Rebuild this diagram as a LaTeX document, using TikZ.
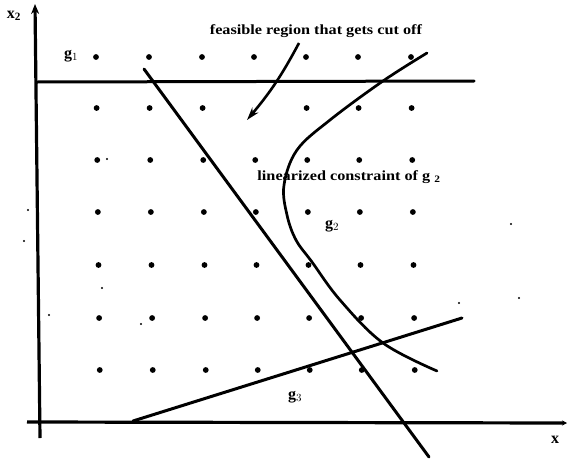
\documentclass[tikz,border=0pt]{standalone}
\usepackage{fontspec}
\setmainfont{Liberation Serif}
\usetikzlibrary{arrows.meta}
\begin{document}
\begin{tikzpicture}[x=1pt,y=-1pt,
  axisline/.style={line width=3.2pt},
  conline/.style={line width=3pt, line cap=round},
  gridpt/.style={fill=black},
  speck/.style={fill=black},
  lbl/.style={inner sep=0pt, font=\fontsize{16}{18}\selectfont},
  note/.style={inner sep=0pt, font=\fontsize{14}{16}\selectfont, xscale=1.16}]
\useasboundingbox (0,0) rectangle (573,458);
% axes
\coordinate (ybot) at (40,438);
\coordinate (ytop) at (35,4);
\coordinate (xleft) at (27,422);
\coordinate (xright) at (567,423);
\draw[axisline,-{Stealth[length=10pt,width=8pt]}] (ybot) -- (ytop);
\draw[axisline,-{Stealth[length=5pt,width=5pt]}] (xleft) -- (xright);
\node[lbl] (x2lbl) at (14,16) {\textbf{x}$_{\mathbf 2}$};
\node[lbl] (xlbl) at (555,440) {\textbf{x}};
% grid of points
\foreach \y in {57,108,160,212,265,318,370}{
  \foreach \x in {96,149,202,254,306,358,411}{
    \ifnum\x=254 \ifnum\y=108 \else
      \fill[gridpt] ({\x+(\y-57)*0.012},\y) circle (2.9);
    \fi\else
      \fill[gridpt] ({\x+(\y-57)*0.012},\y) circle (2.9);
    \fi
  }
}
% specks
\foreach \p in {(28,210),(24,241),(49,315),(102,288),(141,324),(107,159),(459,303),(511,224),(519,298)}
  \fill[speck] \p circle (1.2);
% g1
\coordinate (g1a) at (37,82);
\coordinate (g1b) at (474,81);
\draw[conline] (g1a) -- (g1b);
\node[lbl] (g1lbl) at (71,56) {\textbf{g}$_{1}$};
% diagonal cut line
\coordinate (da) at (144,69);
\coordinate (db) at (429,457);
\draw[conline] (da) -- (db);
% g3
\coordinate (g3a) at (133,421);
\coordinate (g3b) at (462,318);
\draw[conline] (g3a) -- (g3b);
\node[lbl] (g3lbl) at (295,397) {\textbf{g}$_{3}$};
% g2 curve
\draw[conline, line width=2.7pt] plot[smooth, tension=0.6] coordinates {(427,53) (383,81) (330,120) (297,150) (284,185) (287,215) (296,240) (312,262) (340,300) (383,343) (437,371)};
\node[lbl] (g2lbl) at (332,226) {\textbf{g}$_{2}$};
% annotation
\node[note] (cutlbl) at (316,31) {\textbf{feasible region that gets cut off}};
\coordinate (arrtip) at (247,120);
\draw[line width=2.6pt,-{Stealth[length=13pt,width=8pt]}] (299,43) to[bend left=6] (arrtip);
\node[note] (linlbl) at (349,177) {\textbf{linearized constraint of g} $_{\mathbf 2}$};
\end{tikzpicture}
\end{document}
